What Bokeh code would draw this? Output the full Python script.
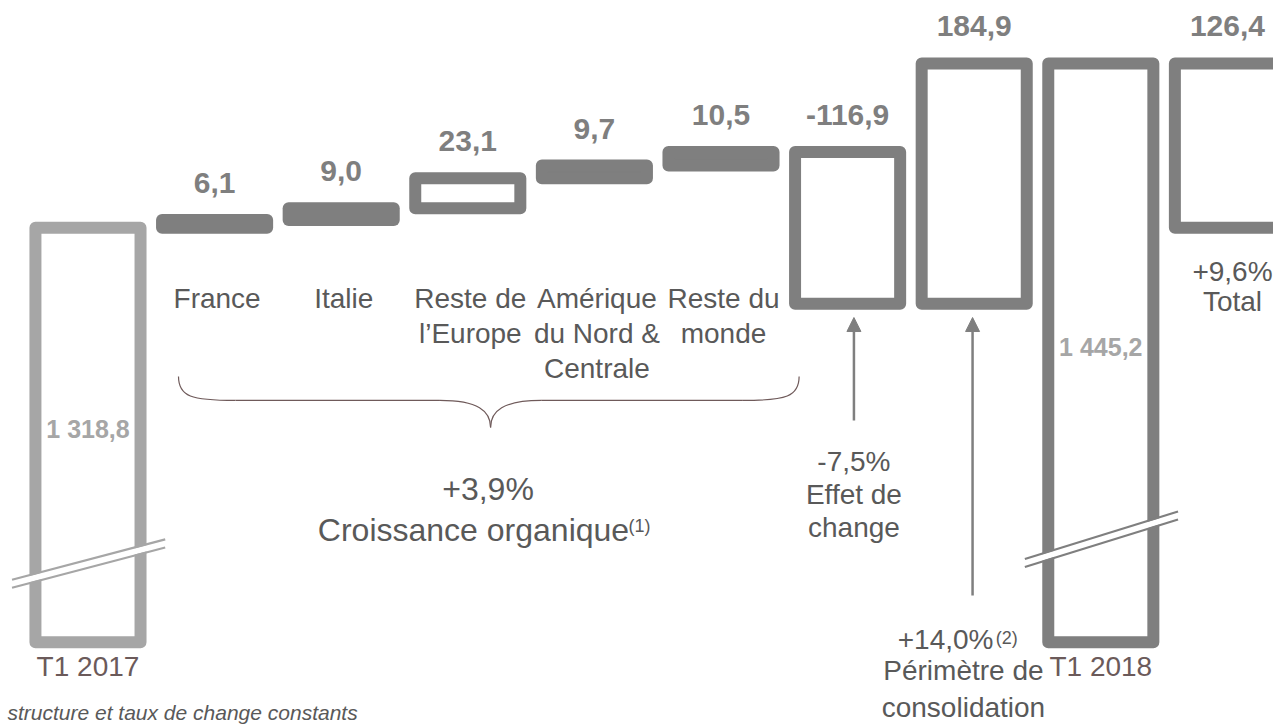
from bokeh.plotting import figure
from bokeh.models import Range1d, Arrow, NormalHead, ColumnDataSource
from bokeh.embed import file_html
from bokeh.resources import INLINE
from bokeh.core.properties import value

# ---------------- data ----------------
period_labels = ["T1 2017", "T1 2018"]
start_value = 1318.8
end_value = 1445.2
region_names = ["France", "Italie", "Reste de\nl\u2019Europe",
                "Am\u00e9rique\ndu Nord &\nCentrale", "Reste du\nmonde"]
region_deltas = [6.1, 9.0, 23.1, 9.7, 10.5]
fx_delta = -116.9
scope_delta = 184.9
total_delta = 126.4
delta_texts = ["6,1", "9,0", "23,1", "9,7", "10,5", "-116,9", "184,9"]
total_text = "126,4"
start_text = "1 318,8"
end_text = "1 445,2"
organic_pct = "+3,9%"
organic_label = "Croissance organique"
fx_pct = "-7,5%"
fx_label = "Effet de\nchange"
scope_pct = "+14,0%"
scope_label = "P\u00e9rim\u00e8tre de\nconsolidation"
total_pct = "+9,6%"
total_label = "Total"
footnote = "structure et taux de change constants"
# outlined (hollow) delta bars, by delta position
hollow_deltas = [False, False, True, False, False, True, True]

# ---------------- styles ----------------
DARK = "#7F7F7F"
LIGHT = "#A6A6A6"
TXT = "#595959"
BROWN = "#6B5A5A"
FONT = value("Liberation Sans")
BASE = 1000.0  # broken-axis baseline of the total bars
W = 0.83
LW = 12

p = figure(width=1273, height=724, output_backend="svg", toolbar_location=None,
           x_range=Range1d(-0.691, 9.364), y_range=Range1d(936.74, 1493.66),
           min_border=0)
p.axis.visible = False
p.grid.visible = False
p.outline_line_color = None
p.background_fill_color = "white"
p.border_fill_color = "white"

# --- waterfall geometry from data ---
deltas = region_deltas + [fx_delta, scope_delta]
xs, bots, tops = [], [], []
cum = start_value
for i, d in enumerate(deltas):
    xs.append(i + 1)
    bots.append(min(cum, cum + d))
    tops.append(max(cum, cum + d))
    cum += d

# start and end totals (hollow, broken bars)
p.quad(left=[0 - W / 2], right=[0 + W / 2], bottom=[BASE], top=[start_value],
       fill_color="white", line_color=LIGHT, line_width=LW, line_join="round")
p.quad(left=[8 - W / 2], right=[8 + W / 2], bottom=[BASE], top=[end_value],
       fill_color="white", line_color=DARK, line_width=LW, line_join="round")
# total change box
p.quad(left=[9 - W / 2], right=[9 + W / 2], bottom=[end_value - total_delta], top=[end_value],
       fill_color="white", line_color=DARK, line_width=LW, line_join="round")

# delta bars
fills = ["white" if h else DARK for h in hollow_deltas]
src = ColumnDataSource(dict(left=[x - W / 2 for x in xs], right=[x + W / 2 for x in xs],
                            bottom=bots, top=tops, fill=fills, x=xs, lab=delta_texts))
p.quad(left="left", right="right", bottom="bottom", top="top", source=src,
       fill_color="fill", line_color=DARK, line_width=LW, line_join="round")

# value labels
p.text(x="x", y="top", text="lab", source=src, text_font=FONT, text_font_size="30px",
       text_font_style="bold", text_color=DARK, text_align="center",
       text_baseline="alphabetic", y_offset=-37)
p.text(x=[9], y=[end_value], text=[total_text], text_font=FONT, text_font_size="30px",
       text_font_style="bold", text_color=DARK, text_align="center",
       text_baseline="alphabetic", y_offset=-37)

# labels inside tall bars
p.text(x=[0, 8], y=[(BASE + start_value) / 2, (BASE + end_value) / 2],
       text=[start_text, end_text], text_font=FONT, text_font_size="25px",
       text_font_style="bold", text_color=LIGHT, text_align="center",
       text_baseline="middle", y_offset=-6)

# axis-break marks
for xc, y0, y1, col in [(0, BASE + 45, BASE + 76, LIGHT), (8, BASE + 61, BASE + 97.5, DARK)]:
    p.line(x=[xc - 0.6, xc + 0.61], y=[y0, y1], line_color="white", line_width=6)
    for off in (-3.1, 3.1):
        p.line(x=[xc - 0.6, xc + 0.61], y=[y0 + off, y1 + off], line_color=col, line_width=2.2)

# period labels below bars
p.text(x=[0, 8], y=[BASE, BASE], text=period_labels, text_font=FONT, text_font_size="28px",
       text_color=BROWN, text_align="center", text_baseline="top", y_offset=9)

# region labels
p.text(x=[x + 0.02 for x in xs[:5]], y=[1276] * 5, text=region_names, text_font=FONT,
       text_font_size="28px", text_color=TXT, text_align="center", text_baseline="top",
       text_line_height=1.12)

# brace under region labels
xL, xR, xM = 0.715, 5.617, 3.18
ytop, yflat, ytip = 1204.4, 1186.0, 1165.2
BR = "#6F5A5A"
p.bezier(x0=[xL, xR], y0=[ytop, ytop], x1=[xL + 0.45, xR - 0.45], y1=[yflat, yflat],
         cx0=[xL, xR], cy0=[yflat + 3, yflat + 3], cx1=[xL + 0.1, xR - 0.1], cy1=[yflat, yflat],
         line_color=BR, line_width=1.2)
p.segment(x0=[xL + 0.45, xM + 0.4], y0=[yflat, yflat], x1=[xM - 0.4, xR - 0.45], y1=[yflat, yflat],
          line_color=BR, line_width=1.2)
p.bezier(x0=[xM - 0.4, xM + 0.4], y0=[yflat, yflat], x1=[xM, xM], y1=[ytip, ytip],
         cx0=[xM - 0.1, xM + 0.1], cy0=[yflat, yflat], cx1=[xM, xM], cy1=[yflat - 8, yflat - 8],
         line_color=BR, line_width=1.2)

# organic growth text
p.text(x=[3.16], y=[1131.5], text=[organic_pct], text_font=FONT, text_font_size="32px",
       text_color=TXT, text_align="center", text_baseline="top")
p.text(x=[3.045], y=[1100.5], text=[organic_label], text_font=FONT, text_font_size="32px",
       text_color=TXT, text_align="center", text_baseline="top")
p.text(x=[4.27], y=[1097.5], text=["(1)"], text_font=FONT, text_font_size="18px",
       text_color=TXT, text_align="left", text_baseline="top")

# arrows
fx_x, scope_x = 6.05, 6.987
p.add_layout(Arrow(end=NormalHead(size=14, fill_color=DARK, line_color=DARK),
                   x_start=fx_x, y_start=1170.6, x_end=fx_x, y_end=bots[5] - 10.5,
                   line_color=DARK, line_width=2.5))
p.add_layout(Arrow(end=NormalHead(size=14, fill_color=DARK, line_color=DARK),
                   x_start=scope_x, y_start=1036.0, x_end=scope_x, y_end=bots[6] - 10.5,
                   line_color=DARK, line_width=2.5))

# fx text
p.text(x=[fx_x], y=[1150.6], text=[fx_pct + "\n" + fx_label], text_font=FONT,
       text_font_size="28px", text_color=TXT, text_align="center", text_baseline="top",
       text_line_height=1.05)

# scope text
p.text(x=[7.152], y=[1013.7], text=[scope_pct], text_font=FONT, text_font_size="28px",
       text_color=TXT, text_align="right", text_baseline="top")
p.text(x=[7.17], y=[1011.3], text=["(2)"], text_font=FONT, text_font_size="18px",
       text_color=TXT, text_align="left", text_baseline="top")
p.text(x=[6.915], y=[990.0], text=[scope_label], text_font=FONT, text_font_size="28px",
       text_color=TXT, text_align="center", text_baseline="top", text_line_height=1.2)

# total text
p.text(x=[9.04], y=[1297.5], text=[total_pct + "\n" + total_label], text_font=FONT,
       text_font_size="28px", text_color=TXT, text_align="center", text_baseline="top",
       text_line_height=0.99)

# footnote
p.text(x=[-0.636], y=[940.0], text=[footnote], text_font=FONT, text_font_size="21px",
       text_font_style="italic", text_color=TXT, text_align="left", text_baseline="alphabetic",
       y_offset=-8)

open("out.html", "w").write(file_html(p, INLINE))
